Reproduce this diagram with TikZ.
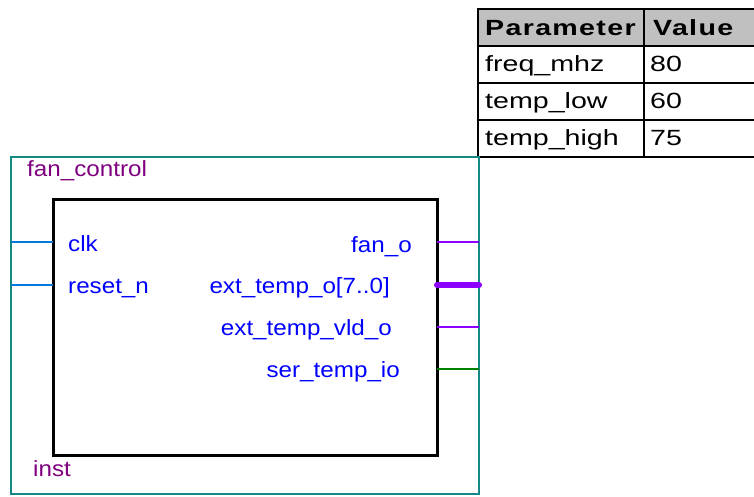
\documentclass[tikz,border=0pt]{standalone}
\usepackage{fontspec}
\setmainfont{Liberation Sans}
\newfontfamily\portfont[FakeStretch=1.1]{Liberation Sans}
\newfontfamily\tabfont[FakeStretch=1.3,BoldFeatures={LetterSpace=6}]{Liberation Sans}
\usepackage{xcolor}
\usepackage{tikz}
\usetikzlibrary{positioning}

\definecolor{instteal}{RGB}{20,135,135}
\definecolor{pinblue}{RGB}{0,120,220}
\definecolor{pinpurple}{RGB}{140,0,255}
\definecolor{pingreen}{RGB}{0,128,0}
\definecolor{labelblue}{RGB}{0,0,255}
\definecolor{namepurple}{RGB}{128,0,128}
\definecolor{headgray}{RGB}{192,192,192}

\begin{document}
\begin{tikzpicture}[x=1pt,y=-1pt,
    cell/.style={draw=black, line width=2pt, rectangle, inner sep=0pt, outer sep=0pt, anchor=north west},
    tabtxt/.style={anchor=base west, inner sep=0pt, font=\tabfont\fontsize{22}{25}\selectfont},
    pintxt/.style={inner sep=0pt, text=labelblue, font=\portfont\fontsize{22}{25}\selectfont},
    nametxt/.style={anchor=base west, inner sep=0pt, text=namepurple, font=\portfont\fontsize{22}{25}\selectfont},
    pin/.style={line width=2.2pt}]
    \useasboundingbox (0,0) rectangle (754,497);
    % parameter table
    \node[cell, fill=headgray, minimum width=166, minimum height=37] (hpar) at (478,9) {};
    \node[cell, fill=headgray, minimum width=116, minimum height=37] (hval) at (hpar.north east) {};
    \node[cell, minimum width=166, minimum height=37] (rfreq) at (hpar.south west) {};
    \node[cell, minimum width=116, minimum height=37] (vfreq) at (rfreq.north east) {};
    \node[cell, minimum width=166, minimum height=37] (rlow) at (rfreq.south west) {};
    \node[cell, minimum width=116, minimum height=37] (vlow) at (rlow.north east) {};
    \node[cell, minimum width=166, minimum height=37] (rhigh) at (rlow.south west) {};
    \node[cell, minimum width=116, minimum height=37] (vhigh) at (rhigh.north east) {};
    \node[tabtxt] (tpar) at (485,36) {\bfseries Parameter};
    \node[tabtxt] (tval) at (653,36) {\bfseries Value};
    \node[tabtxt] (tfreq) at (485,72) {freq\_mhz};
    \node[tabtxt] (nfreq) at (650,72) {80};
    \node[tabtxt] (tlow) at (485,109) {temp\_low};
    \node[tabtxt] (nlow) at (650,109) {60};
    \node[tabtxt] (thigh) at (485,146) {temp\_high};
    \node[tabtxt] (nhigh) at (650,146) {75};

    % instance frame and symbol
    \node[draw=instteal, line width=2pt, rectangle, inner sep=0pt, outer sep=0pt, anchor=north west,
          minimum width=468, minimum height=337] (frame) at (11,157) {};
    \node[draw=black, line width=3pt, rectangle, inner sep=0pt, outer sep=0pt, anchor=north west,
          minimum width=384, minimum height=256] (core) at (53,199) {};
    \node[nametxt] (fname) at (27,177) {fan\_control};
    \node[nametxt] (iname) at (33,476) {inst};

    % pins
    \coordinate (clkin) at (frame.west |- 0,242);
    \coordinate (rstin) at (frame.west |- 0,285);
    \coordinate (fanout) at (frame.east |- 0,242);
    \coordinate (extout) at (frame.east |- 0,285);
    \coordinate (vldout) at (frame.east |- 0,327);
    \coordinate (serio) at (frame.east |- 0,369);
    \draw[pin, pinblue] (clkin) -- (core.west |- clkin);
    \draw[pin, pinblue] (rstin) -- (core.west |- rstin);
    \draw[pin, pinpurple] (core.east |- fanout) -- (fanout);
    \draw[pinpurple, line width=6pt, line cap=round] (core.east |- extout) -- (extout);
    \draw[pin, pinpurple] (core.east |- vldout) -- (vldout);
    \draw[pin, pingreen] (core.east |- serio) -- (serio);

    \node[pintxt, anchor=base west] (lclk) at (68,251) {clk};
    \node[pintxt, anchor=base west] (lrst) at (68,293) {reset\_n};
    \node[pintxt, anchor=base east] (lfan) at (412,252) {fan\_o};
    \node[pintxt, anchor=base east] (lext) at (390,293) {ext\_temp\_o[7..0]};
    \node[pintxt, anchor=base east] (lvld) at (392,335) {ext\_temp\_vld\_o};
    \node[pintxt, anchor=base east] (lser) at (400,377) {ser\_temp\_io};
\end{tikzpicture}
\end{document}
